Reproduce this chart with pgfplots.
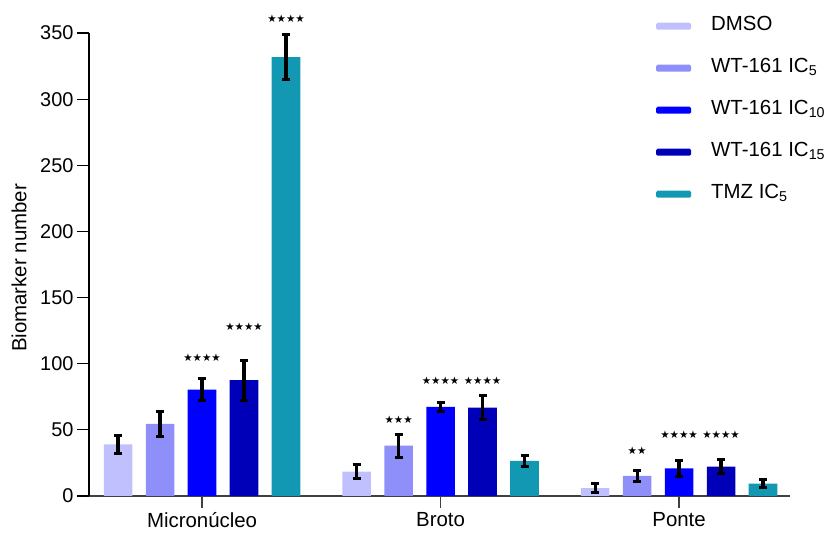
\documentclass[border=0pt]{standalone}
\usepackage{pgfplots}
\pgfplotsset{compat=1.18}
\usepackage{pgfplotstable}
\usepackage{fontspec}
\setmainfont{Liberation Sans}
\newfontfamily\starfont{DejaVu Sans}
\definecolor{cDMSO}{HTML}{C0C0FF}
\definecolor{cFive}{HTML}{8F8FFA}
\definecolor{cTen}{HTML}{0000FF}
\definecolor{cFifteen}{HTML}{0000B8}
\definecolor{cTMZ}{HTML}{1298B2}
\pgfplotstableread{
x y e
-0.352 39.0 6.5
0.648 18.4 5.4
1.648 6.0 3.3
}\dmso
\pgfplotstableread{
x y e
-0.176 54.5 9.5
0.824 38.0 8.8
1.824 15.2 4.4
}\icfive
\pgfplotstableread{
x y e
0 80.5 8.0
1 67.3 3.4
2 20.8 5.8
}\icten
\pgfplotstableread{
x y e
0.176 87.5 15.0
1.176 66.8 9.0
2.176 22.2 5.3
}\icfifteen
\pgfplotstableread{
x y e
0.352 331.8 17.0
1.352 26.5 4.3
2.352 9.3 2.8
}\tmz
\newcommand{\stars}[1]{{\starfont\fontsize{10.5}{10.5}\selectfont #1}}
\begin{document}
\begin{tikzpicture}
\begin{axis}[
  at={(89bp,40bp)}, anchor=south west,
  scale only axis, width=701bp, height=463bp,
  xmin=-0.474, xmax=2.465, ymin=0, ymax=350,
  clip=false,
  axis x line*=bottom, axis y line*=left,
  x axis line style={draw=black!75, line width=1.4bp},
  y axis line style={draw=black, line width=1.2bp},
  tick align=outside, major tick length=12bp,
  xtick={0,1,2}, xticklabels={Micronúcleo,Broto,Ponte},
  x tick style={draw=black!75, line width=1.2bp},
  y tick style={draw=black, line width=1.2bp},
  ytick={0,50,...,350},
  /pgf/number format/assume math mode=true,
  tick label style={font=\fontsize{20}{22}\selectfont},
  xticklabel style={font=\fontsize{20.5}{22}\selectfont, yshift=-1bp},
  ylabel={Biomarker number},
  ylabel style={font=\fontsize{20.5}{22}\selectfont, at={(axis description cs:-0.0999,0.4925)}, anchor=center},
  ybar, bar shift=0pt, bar width=0.12,
  error bars/y dir=both, error bars/y explicit,
  error bars/error bar style={line width=3.2bp, black},
  error bars/error mark options={rotate=90, mark size=4bp, line width=3bp, black},
  legend style={draw=none, fill=none, at={(axis description cs:0.8045,1.04)}, anchor=north west,
    font=\fontsize{20.5}{22}\selectfont, row sep=23bp,
    nodes={text height=14bp, text depth=5bp, inner sep=0pt}},
  legend cell align=left,
]
\addplot[fill=cDMSO, draw=none, legend image code/.code={\fill[cDMSO, rounded corners=1.5bp] (0bp,-3.5bp) rectangle (35bp,3.5bp);}] table[x=x, y=y, y error=e]{\dmso};
\addlegendentry{\hspace*{20bp}DMSO}
\addplot[fill=cFive, draw=none, legend image code/.code={\fill[cFive, rounded corners=1.5bp] (0bp,-3.5bp) rectangle (35bp,3.5bp);}] table[x=x, y=y, y error=e]{\icfive};
\addlegendentry{\hspace*{20bp}WT-161 IC\textsubscript{5}}
\addplot[fill=cTen, draw=none, legend image code/.code={\fill[cTen, rounded corners=1.5bp] (0bp,-3.5bp) rectangle (35bp,3.5bp);}] table[x=x, y=y, y error=e]{\icten};
\addlegendentry{\hspace*{20bp}WT-161 IC\textsubscript{10}}
\addplot[fill=cFifteen, draw=none, legend image code/.code={\fill[cFifteen, rounded corners=1.5bp] (0bp,-3.5bp) rectangle (35bp,3.5bp);}] table[x=x, y=y, y error=e]{\icfifteen};
\addlegendentry{\hspace*{20bp}WT-161 IC\textsubscript{15}}
\addplot[fill=cTMZ, draw=none, legend image code/.code={\fill[cTMZ, rounded corners=1.5bp] (0bp,-3.5bp) rectangle (35bp,3.5bp);}] table[x=x, y=y, y error=e]{\tmz};
\addlegendentry{\hspace*{20bp}TMZ IC\textsubscript{5}}
\node at (axis cs:0,104.8) {\stars{★★★★}};
\node at (axis cs:0.176,128) {\stars{★★★★}};
\node at (axis cs:0.352,361) {\stars{★★★★}};
\node at (axis cs:0.824,57.5) {\stars{★★★}};
\node at (axis cs:1,86.9) {\stars{★★★★}};
\node at (axis cs:1.176,86.9) {\stars{★★★★}};
\node at (axis cs:1.824,34.2) {\stars{★★}};
\node at (axis cs:2,46.1) {\stars{★★★★}};
\node at (axis cs:2.176,46.1) {\stars{★★★★}};
\end{axis}
\pgfresetboundingbox
\useasboundingbox (0,0) rectangle (830bp,536bp);
\end{tikzpicture}
\end{document}
